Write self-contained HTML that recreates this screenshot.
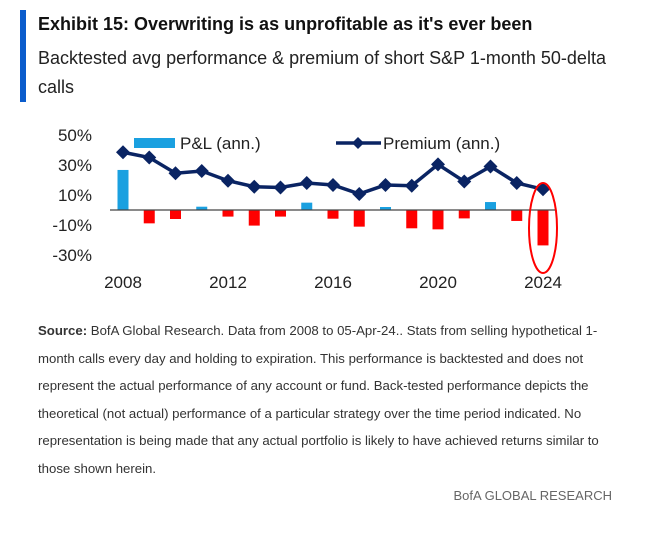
<!DOCTYPE html>
<html><head><meta charset="utf-8"><style>
body{margin:0;width:655px;height:540px;background:#fff;font-family:"Liberation Sans",sans-serif;position:relative;overflow:hidden}
.bar{position:absolute;left:20px;top:10px;width:6px;height:92px;background:#0b5ccc}
.t{position:absolute;left:38px;top:14px;font-size:18px;font-weight:bold;color:#111}
.s{position:absolute;left:38px;top:44px;font-size:18px;color:#222;line-height:29px;width:580px}
.src{position:absolute;left:38px;top:317px;font-size:13.2px;color:#333;line-height:27.5px;width:580px}
.ft{position:absolute;right:43px;top:488px;font-size:13px;color:#666}
svg{position:absolute;left:0;top:0}
</style></head><body>
<div class="bar"></div>
<div class="t">Exhibit 15: Overwriting is as unprofitable as it's ever been</div>
<div class="s">Backtested avg performance &amp; premium of short S&amp;P 1-month 50-delta calls</div>
<svg width="655" height="540">
<g id="g"></g>
</svg>
<div class="src"><b>Source:</b> BofA Global Research. Data from 2008 to 05-Apr-24.. Stats from selling hypothetical 1-month calls every day and holding to expiration. This performance is backtested and does not represent the actual performance of any account or fund. Back-tested performance depicts the theoretical (not actual) performance of a particular strategy over the time period indicated. No representation is being made that any actual portfolio is likely to have achieved returns similar to those shown herein.</div>
<div class="ft">BofA GLOBAL RESEARCH</div>
<script>
const years=[2008,2009,2010,2011,2012,2013,2014,2015,2016,2017,2018,2019,2020,2021,2022,2023,2024];
const pnl=[26.7,-8.9,-6,2.2,-4.4,-10.4,-4.4,4.9,-5.8,-11.1,2,-12.2,-12.9,-5.6,5.3,-7.3,-23.6];
const premium=[38.5,35,24.5,26,19.5,15.5,15,18,16.7,10.7,16.7,16.2,30.4,19,29,18,13.8];
const yTicks=[50,30,10,-10,-30];
const xTicks=[2008,2012,2016,2020,2024];
const X=y=>123+(y-2008)*26.25, Y=v=>210-v*1.5;
const g=document.getElementById('g'),NS='http://www.w3.org/2000/svg';
function mk(t,a,txt){const e=document.createElementNS(NS,t);for(const k in a)e.setAttribute(k,a[k]);if(txt!=null)e.textContent=txt;g.appendChild(e);return e;}
yTicks.forEach(v=>{const e=mk('text',{x:92,y:Y(v)+6,'text-anchor':'end','font-size':17,fill:'#222'},(v)+'%');

});
xTicks.forEach(v=>{const e=mk('text',{x:X(v),y:288,'text-anchor':'middle','font-size':17,fill:'#222'},v);

});
years.forEach((yr,i)=>{const v=pnl[i];const e=mk('rect',{x:X(yr)-5.5,y:Math.min(Y(v),Y(0)),width:11,height:Math.abs(Y(v)-Y(0)),fill:v>=0?'#1aa0e0':'#ff0000'});

});
const ax=mk('line',{x1:110,x2:556,y1:Y(0),y2:Y(0),stroke:'#444','stroke-width':1.2});


const ln=mk('polyline',{points:years.map((yr,i)=>X(yr)+','+Y(premium[i])).join(' '),fill:'none',stroke:'#0a2463','stroke-width':3.5});


years.forEach((yr,i)=>{const x=X(yr),y=Y(premium[i]);const e=mk('polygon',{points:`${x},${y-7} ${x+7},${y} ${x},${y+7} ${x-7},${y}`,fill:'#0a2463'});

});
const el=mk('ellipse',{cx:543,cy:228,rx:14,ry:45,fill:'none',stroke:'#ff0000','stroke-width':2});


const l1=mk('rect',{x:134,y:138,width:41,height:10,fill:'#1aa0e0'});


const l2=mk('text',{x:180,y:149,'font-size':17,fill:'#222'},'P&L (ann.)');


const l3=mk('line',{x1:336,x2:381,y1:143,y2:143,stroke:'#0a2463','stroke-width':3.5});


const l4=mk('polygon',{points:'358,137 364,143 358,149 352,143',fill:'#0a2463'});


const l5=mk('text',{x:383,y:149,'font-size':17,fill:'#222'},'Premium (ann.)');


</script>
</body></html>
